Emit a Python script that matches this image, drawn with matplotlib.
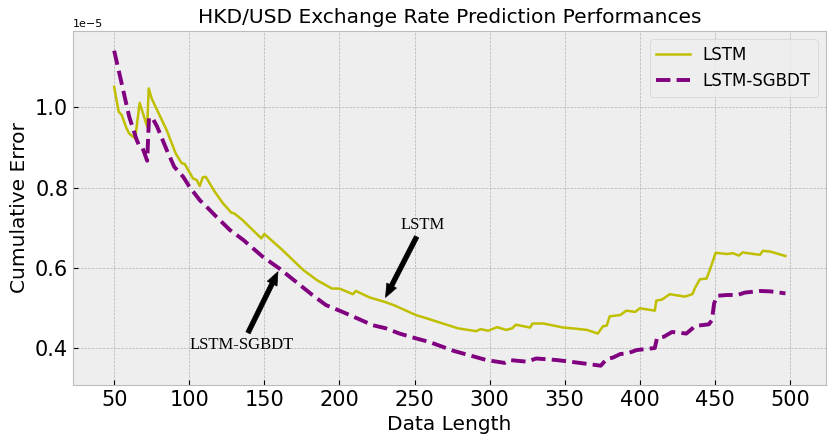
import numpy as np
import matplotlib
matplotlib.use("Agg")
import matplotlib.pyplot as plt

plt.style.use("bmh")

# cumulative error (units of 1e-5)
lstm_x = [50, 53, 55, 58, 60, 62.5, 64, 67, 72, 73, 75, 77, 85, 91, 95, 97, 102.5, 105, 107, 109,
          111, 117, 122.5, 128, 130, 135, 148, 150, 162, 176, 185, 195, 200, 209, 211, 220, 230, 236,
          251, 258, 279, 291, 294, 299, 305, 311, 315, 317.5, 327, 328.5, 336, 349, 355, 365, 372,
          375.5, 378, 380, 387, 391, 397, 400, 410, 411, 415, 420, 430, 435, 437, 440, 444.5, 447,
          450.5, 458, 462, 466, 468.5, 472, 480, 482, 487, 497]
lstm_y = [1.051, 0.989, 0.981, 0.950, 0.935, 0.927, 0.923, 1.011, 0.952, 1.047, 1.022, 1.006, 0.943,
          0.885, 0.861, 0.859, 0.823, 0.819, 0.804, 0.826, 0.827, 0.790, 0.761, 0.738, 0.736, 0.721,
          0.674, 0.685, 0.645, 0.595, 0.570, 0.549, 0.549, 0.535, 0.543, 0.527, 0.516, 0.508, 0.483,
          0.475, 0.450, 0.443, 0.448, 0.444, 0.453, 0.446, 0.450, 0.459, 0.452, 0.462, 0.462, 0.452,
          0.450, 0.446, 0.437, 0.455, 0.457, 0.480, 0.483, 0.494, 0.491, 0.500, 0.494, 0.519, 0.522,
          0.535, 0.529, 0.535, 0.552, 0.572, 0.574, 0.599, 0.638, 0.635, 0.637, 0.631, 0.639, 0.637,
          0.633, 0.643, 0.641, 0.630]

sgbdt_x = [50, 54, 60, 65, 67, 69, 72, 73.2, 76, 78.5, 85, 90, 96, 100, 107, 112.5, 118, 127, 136,
           149, 160, 171, 182, 191, 202, 213, 222, 231, 240, 251, 260, 276, 298, 310, 313.5, 325, 331,
           345, 360, 374, 378, 382, 387, 392, 398, 410, 411.5, 416, 421.5, 431, 437, 446, 448, 449.5,
           451.5, 458, 465, 470, 480, 487, 497]
sgbdt_y = [1.141, 1.076, 0.977, 0.919, 0.902, 0.898, 0.867, 0.975, 0.970, 0.953, 0.894, 0.852, 0.827,
           0.803, 0.769, 0.749, 0.728, 0.695, 0.670, 0.628, 0.599, 0.566, 0.533, 0.508, 0.491, 0.473,
           0.458, 0.450, 0.437, 0.425, 0.416, 0.394, 0.371, 0.364, 0.371, 0.367, 0.375, 0.371, 0.364,
           0.357, 0.374, 0.377, 0.386, 0.388, 0.396, 0.401, 0.426, 0.429, 0.441, 0.437, 0.456, 0.460,
           0.470, 0.512, 0.531, 0.533, 0.533, 0.539, 0.543, 0.542, 0.537]

lstm_y = np.array(lstm_y) * 1e-5
sgbdt_y = np.array(sgbdt_y) * 1e-5

fig = plt.figure(figsize=(8.33, 4.45), dpi=100)
ax = fig.add_axes([73 / 833, 60 / 445, 753 / 833, 354 / 445])

ax.plot(lstm_x, lstm_y, color="y", linewidth=1.8, label="LSTM")
ax.plot(sgbdt_x, sgbdt_y, color="purple", linewidth=2.8, linestyle="--", label="LSTM-SGBDT")

arrow = dict(arrowstyle="simple,head_length=0.8,head_width=0.65,tail_width=0.28",
             color="black", mutation_scale=12, shrinkA=1, shrinkB=0)
ax.annotate("LSTM", xy=(230.7, 0.527e-5), xytext=(240.8, 0.698e-5),
            fontsize=12, family="Liberation Serif", arrowprops=arrow)
ax.annotate("LSTM-SGBDT", xy=(159.1, 0.591e-5), xytext=(100.5, 0.399e-5),
            fontsize=12, family="Liberation Serif", arrowprops=arrow)

ax.set_xlim(22.6, 524)
ax.set_ylim(0.309e-5, 1.19e-5)
ax.set_xticks([50, 100, 150, 200, 250, 300, 350, 400, 450, 500])
ax.set_yticks([0.4e-5, 0.6e-5, 0.8e-5, 1.0e-5])
ax.tick_params(labelsize=15)
ax.yaxis.get_offset_text().set_fontsize(8)
ax.set_title("HKD/USD Exchange Rate Prediction Performances", fontsize=14.5)
ax.set_xlabel("Data Length", fontsize=14.5)
ax.set_ylabel("Cumulative Error", fontsize=14.5)
ax.legend(fontsize=12, loc="upper right")

fig.savefig("out.png", dpi=100)
